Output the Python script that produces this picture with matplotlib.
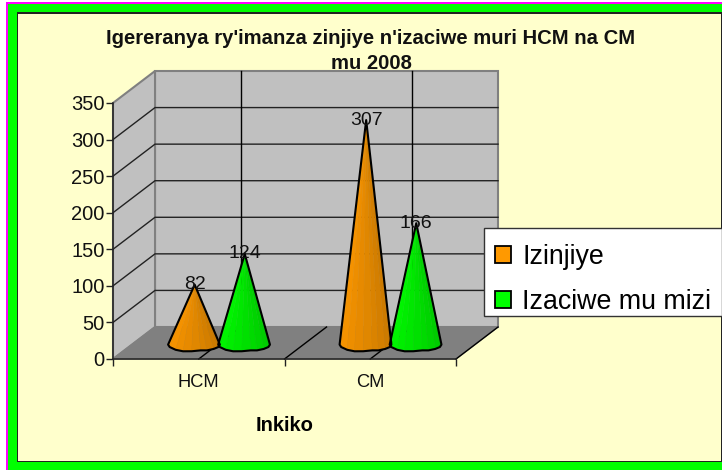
import matplotlib
matplotlib.use("Agg")
import matplotlib.pyplot as plt
import numpy as np
from matplotlib.colors import to_rgb
from matplotlib.patches import Patch, Polygon, Rectangle

plt.rcParams["font.family"] = ["Liberation Sans", "DejaVu Sans"]

W, H = 722, 470

categories = ["HCM", "CM"]
series_names = ["Izinjiye", "Izaciwe mu mizi"]
izinjiye = [82, 307]
izaciwe = [124, 166]
yticks = [0, 50, 100, 150, 200, 250, 300, 350]
colors = ["#FF9900", "#00FF00"]

title = "Igereranya ry'imanza zinjiye n'izaciwe muri HCM na CM\nmu 2008"
xlabel = "Inkiko"

# depth of the fake 3d box, in data units
DX, DY = 0.245, 43.75
MID = 0.45          # cones stand a bit in front of the middle of the floor
CONE_W, CONE_H = 0.151, 9.6
OFFSET = 0.146
SHIFT = 0.008


def frame(fig, x0, y0, x1, y1, color, ec="none", zorder=-1):
    fig.add_artist(Rectangle((x0 / W, 1 - y1 / H), (x1 - x0) / W, (y1 - y0) / H,
                             transform=fig.transFigure, fc=color, ec=ec, zorder=zorder))


def cone(ax, xc, value, color):
    base_y = MID * DY
    # rough base like the original: flat bottom with a small kink
    t = np.radians([180, 200, 225, 245, 265, 285, 300, 320, 340, 360])
    squash = np.array([1.0, 1.0, 1.05, 1.05, 0.95, 0.85, 0.95, 0.95, 1.0, 1.0])
    bx = xc + CONE_W * np.cos(t)
    by = base_y + CONE_H * np.sin(t) * squash
    apex = (xc + 0.004, base_y + value)
    rgb = np.array(to_rgb(color))
    for i in range(len(t) - 1):
        shade = 0.98 - 0.2 * i / (len(t) - 2)
        tri = [apex, (bx[i], by[i]), (bx[i + 1], by[i + 1])]
        ax.add_patch(Polygon(tri, fc=rgb * shade, ec=rgb * shade, lw=0.3, zorder=5, clip_on=False))
    outline = [apex] + list(zip(bx, by))
    ax.add_patch(Polygon(outline, fc="none", ec="black", lw=1.5, joinstyle="round", zorder=6, clip_on=False))
    ax.text(apex[0], apex[1], str(value), ha="center", va="center", fontsize=14,
            color="#111111", zorder=7)


fig = plt.figure(figsize=(W / 100, H / 100), dpi=100, facecolor="white")
frame(fig, 6, 2, W, H, "#FF00FF", zorder=-4)
frame(fig, 8, 3.5, W, H, "#00FF00", zorder=-3)
frame(fig, 16.5, 12, 722, 462, "#222222", zorder=-2)
frame(fig, 18, 13.5, 720.5, 460.5, "#FFFFCC")

ax = fig.add_axes([113 / W, 1 - 359 / H, (456 - 113) / W, (359 - 103) / H])
ax.patch.set_visible(False)
ax.set_xlim(0, 2)
ax.set_ylim(0, 350)
ymax = yticks[-1]

# walls and floor
ax.add_patch(Polygon([(DX, DY), (2 + DX, DY), (2 + DX, ymax + DY), (DX, ymax + DY)],
                     fc="#C0C0C0", ec="#808080", lw=1.5, clip_on=False, zorder=1))
ax.add_patch(Polygon([(0, 0), (DX, DY), (DX, ymax + DY), (0, ymax)],
                     fc="#C0C0C0", ec="#808080", lw=1.5, clip_on=False, zorder=1))
ax.add_patch(Polygon([(0, 0), (2, 0), (2 + DX, DY), (DX, DY)],
                     fc="#808080", ec="#808080", lw=1, clip_on=False, zorder=1))

# gridlines
for v in yticks[1:-1]:
    ax.plot([0, DX, 2 + DX], [v, v + DY, v + DY], color="#222222", lw=1, clip_on=False, zorder=2)
for c in [0.5, 1.5]:
    ax.plot([c + DX, c + DX], [DY, ymax + DY], color="black", lw=1, clip_on=False, zorder=2)
for c in [0.5, 1, 1.5, 2]:
    ax.plot([c, c + DX], [0, DY], color="black", lw=1, clip_on=False, zorder=2)

for i in range(len(categories)):
    centre = i + 0.5 + MID * DX + SHIFT
    cone(ax, centre - OFFSET, izinjiye[i], colors[0])
    cone(ax, centre + OFFSET, izaciwe[i], colors[1])

for s in ["top", "right"]:
    ax.spines[s].set_visible(False)
for s in ["left", "bottom"]:
    ax.spines[s].set_color("#222222")
    ax.spines[s].set_linewidth(1.1)
    ax.spines[s].set_zorder(4)

ax.set_yticks(yticks)
ax.set_xticks([0, 1, 2])
ax.set_xticklabels([])
ax.set_xticks([0.5, 1.5], minor=True)
ax.set_xticklabels(categories, minor=True, fontsize=13.2, color="#111111")
ax.tick_params(axis="x", which="minor", length=0, pad=11)
ax.tick_params(axis="x", which="major", length=5, width=1, color="#222222")
ax.tick_params(axis="y", length=5, width=1, color="#222222", labelsize=14.5, pad=1, labelcolor="#111111")
ax.set_xlabel(xlabel, fontsize=14.5, fontweight="bold", labelpad=18)

fig.text(371 / W, 1 - 51 / H, title, ha="center", va="center", fontsize=14.6, fontweight="bold",
         linespacing=1.4, color="#111111")

# legend box is drawn apart so its size can follow the original
frame(fig, 484, 228, W, 316, "white", ec="#333333", zorder=9)
handles = [Patch(fc=c, ec="black", lw=1.3) for c in colors]
fig.legend(handles, series_names, loc="upper left", bbox_to_anchor=(495 / W, 1 - 244 / H),
           bbox_transform=fig.transFigure, fontsize=19.3, frameon=False, borderaxespad=0,
           handlelength=0.6, handleheight=0.6, handletextpad=0.42, labelspacing=0.72,
           borderpad=0).set_zorder(10)

fig.savefig("out.png", dpi=100)
plt.close(fig)
